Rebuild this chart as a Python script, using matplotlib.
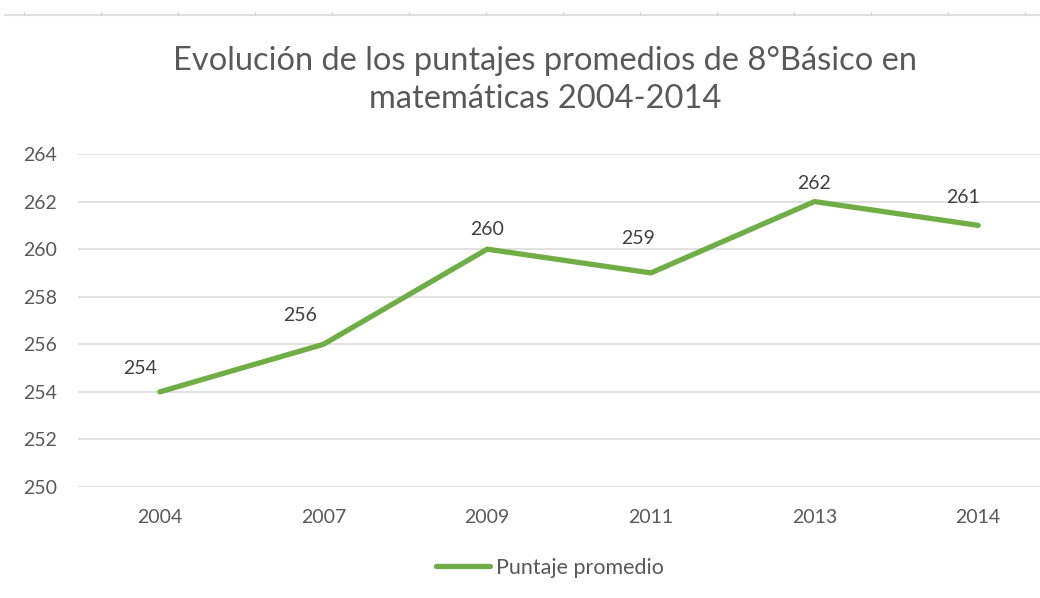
import matplotlib
matplotlib.use('Agg')
import matplotlib.pyplot as plt
from matplotlib.lines import Line2D

# data
years = ['2004', '2007', '2009', '2011', '2013', '2014']
scores = [254, 256, 260, 259, 262, 261]
series_name = 'Puntaje promedio'
title = 'Evolución de los puntajes promedios de 8°Básico en\nmatemáticas 2004-2014'
y_ticks = [250, 252, 254, 256, 258, 260, 262, 264]

# label offsets (points) as placed in the original chart
label_dx = [-14, -17, 0, -9, 0, -11]
label_dy = [17, 21, 14, 25, 13, 20]

GREEN = '#70AD47'
GRAY = '#595959'
GRID = '#D9D9D9'

plt.rcParams['font.family'] = ['Lato', 'DejaVu Sans']

fig = plt.figure(figsize=(10.4, 5.98), dpi=100)
ax = fig.add_axes([78 / 1040, 1 - 487 / 598, 982 / 1040, 333 / 598])

x = list(range(len(years)))
line, = ax.plot(x, scores, color=GREEN, lw=3.8, solid_capstyle='round',
                solid_joinstyle='round', label=series_name, zorder=3)

for xi, v, dx, dy in zip(x, scores, label_dx, label_dy):
    ax.annotate(str(v), (xi, v), xytext=(dx, dy), textcoords='offset points',
                ha='center', va='center', fontsize=14, color='#404040')

ax.set_xlim(-0.5, len(years) - 0.5)
ax.set_ylim(250, 264)
ax.set_xticks(x)
ax.set_xticklabels(years)
ax.set_yticks(y_ticks)
ax.tick_params(axis='both', length=0, labelsize=14, labelcolor=GRAY)
ax.tick_params(axis='x', pad=16)
ax.tick_params(axis='y', pad=15)
ax.grid(axis='y', color=GRID, lw=1.1)
ax.set_axisbelow(True)
for s in ax.spines.values():
    s.set_visible(False)

fig.text(545 / 1040, 1 - 80 / 598, title, ha='center', va='center',
         fontsize=23.5, color=GRAY, linespacing=1.3)

leg = fig.legend(handles=[line], loc='center', bbox_to_anchor=(550 / 1040, 1 - 568 / 598),
                 frameon=False, fontsize=15.5, handlelength=2.5, handletextpad=0.25)
for t in leg.get_texts():
    t.set_color(GRAY)

# faint sheet border along the top
fig.add_artist(Line2D([5 / 1040, 1], [1 - 15 / 598] * 2, color='#E0E0E0', lw=1.5))
for px in range(24, 1040, 77):
    fig.add_artist(Line2D([px / 1040] * 2, [1 - 15 / 598, 1 - 12 / 598], color='#D6D6D6', lw=0.8))

fig.savefig('out.png', dpi=100)
